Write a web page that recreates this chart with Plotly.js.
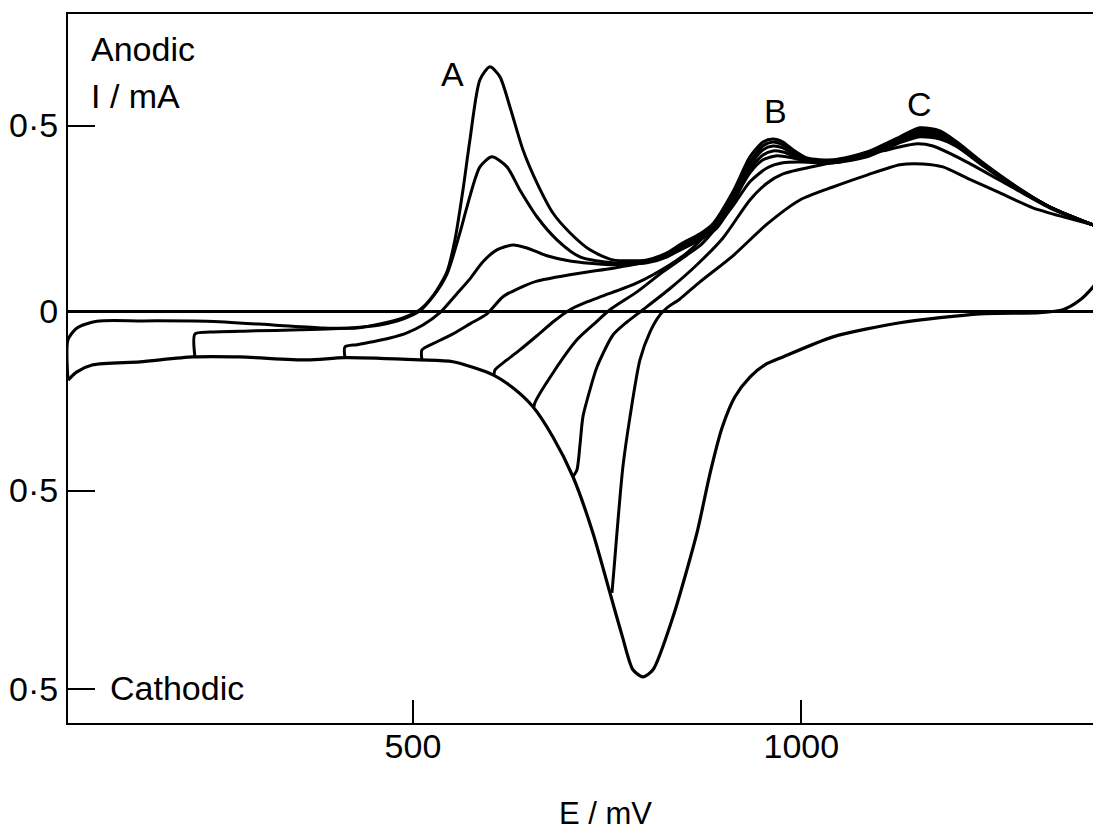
<!DOCTYPE html>
<html>
<head>
<meta charset="utf-8">
<script src="https://cdn.plot.ly/plotly-3.0.1.min.js"></script>
<style>html,body{margin:0;padding:0;background:#fff;}#chart{width:1093px;height:834px;}</style>
</head>
<body>
<div id="chart"></div>
<script>
// Potential E in mV, current I in mA (anodic positive)
// Cathodic sweep from the upper limit down to the lower limit
const cathE = [1384.4,1375.4,1358.6,1336.7,1307.1,1229.9,1126.9,1040.7,976.3,953.1,933.8,914.5,897.8,882.3,865.6,834.7,809.0,796.1,783.2,769.0,753.6,731.7,706.0,680.2,654.5,628.7,603.0,551.5,509.0,412.5,363.5,277.3,216.8,148.6,88.0,67.5,56.0];
const cathI = [0.091,0.066,0.031,0.005,-0.003,-0.006,-0.030,-0.068,-0.122,-0.143,-0.176,-0.229,-0.313,-0.436,-0.595,-0.821,-0.963,-0.982,-0.963,-0.869,-0.756,-0.595,-0.444,-0.337,-0.256,-0.205,-0.170,-0.135,-0.130,-0.124,-0.130,-0.122,-0.122,-0.135,-0.143,-0.162,-0.184];

// Anodic sweeps, each starting at a different reversal potential
const scan56E = [56.0,56.0,67.5,93.2,148.6,234.8,319.8,384.1,427.9,457.5,487.1,509.0,525.7,543.8,554.1,564.4,573.4,586.2,599.1,612.0,624.9,641.6,659.6,680.2,702.1,727.9,757.5,801.2,827.0,847.6,869.5,886.2,911.9,933.8,950.6,963.4,976.3,989.2,1007.2,1040.7,1084.4,1126.9,1152.7,1178.4,1200.3,1233.8,1277.6,1320.0,1375.4,1384.4];
const scan56I = [-0.184,-0.076,-0.044,-0.026,-0.025,-0.026,-0.036,-0.044,-0.044,-0.033,-0.017,0.005,0.042,0.107,0.193,0.327,0.462,0.623,0.658,0.631,0.550,0.435,0.346,0.265,0.212,0.166,0.139,0.139,0.158,0.185,0.209,0.236,0.322,0.416,0.456,0.464,0.456,0.435,0.413,0.408,0.429,0.470,0.494,0.486,0.456,0.400,0.335,0.281,0.233,0.228];

const scan219E = [219.4,219.4,238.7,290.2,354.5,418.9,457.5,487.1,509.0,525.7,543.8,560.5,569.5,586.2,601.7,621.0,637.7,659.6,685.4,715.0,757.5,801.2,827.0,847.6,869.5,886.2,911.9,933.8,950.6,963.4,976.3,989.2,1007.2,1040.7,1084.4,1126.9,1152.7,1178.4,1200.3,1233.8,1277.6,1320.0,1375.4,1384.4];
const scan219I = [-0.122,-0.060,-0.055,-0.052,-0.049,-0.044,-0.036,-0.020,0.002,0.040,0.101,0.212,0.281,0.389,0.416,0.389,0.327,0.255,0.193,0.147,0.131,0.134,0.153,0.179,0.204,0.230,0.314,0.402,0.446,0.456,0.448,0.429,0.410,0.405,0.427,0.467,0.491,0.483,0.454,0.397,0.333,0.281,0.233,0.228];

const scan412E = [412.5,412.5,427.9,448.5,470.4,492.3,512.9,534.8,556.6,573.4,590.1,608.1,628.7,646.8,672.5,702.1,753.6,801.2,827.0,847.6,869.5,886.2,911.9,933.8,950.6,963.4,976.3,989.2,1007.2,1040.7,1084.4,1126.9,1152.7,1178.4,1200.3,1233.8,1277.6,1320.0,1375.4,1384.4];
const scan412I = [-0.124,-0.095,-0.089,-0.081,-0.071,-0.057,-0.036,-0.003,0.048,0.088,0.134,0.166,0.179,0.171,0.150,0.136,0.126,0.131,0.147,0.174,0.198,0.225,0.302,0.392,0.435,0.445,0.440,0.424,0.408,0.405,0.424,0.464,0.486,0.480,0.451,0.397,0.333,0.281,0.233,0.228];

const scan512E = [511.6,511.6,530.9,551.5,573.4,595.3,615.9,637.7,659.6,702.1,766.5,821.8,847.6,869.5,891.3,911.9,933.8,950.6,963.4,976.3,989.2,1007.2,1040.7,1084.4,1126.9,1152.7,1178.4,1200.3,1233.8,1277.6,1320.0,1375.4,1384.4];
const scan512I = [-0.130,-0.103,-0.081,-0.060,-0.033,-0.006,0.040,0.064,0.082,0.099,0.120,0.144,0.169,0.193,0.225,0.292,0.381,0.421,0.432,0.429,0.419,0.405,0.402,0.421,0.462,0.480,0.475,0.448,0.395,0.333,0.281,0.233,0.228];

const scan604E = [604.3,605.6,621.0,637.7,659.6,680.2,702.1,724.0,744.6,788.4,830.9,852.7,873.3,891.3,911.9,933.8,950.6,968.6,989.2,1007.2,1040.7,1084.4,1126.9,1152.7,1178.4,1200.3,1233.8,1277.6,1320.0,1375.4,1384.4];
const scan604I = [-0.170,-0.157,-0.130,-0.103,-0.065,-0.028,0.005,0.026,0.042,0.077,0.126,0.158,0.198,0.241,0.297,0.373,0.408,0.419,0.413,0.405,0.400,0.419,0.459,0.475,0.469,0.445,0.395,0.330,0.281,0.233,0.228];

const scan656E = [655.8,657.0,680.2,711.1,731.7,753.6,788.4,821.8,852.7,872.0,891.3,911.9,933.8,955.7,976.3,998.2,1040.7,1084.4,1126.9,1152.7,1178.4,1200.3,1233.8,1277.6,1320.0,1375.4,1384.4];
const scan656I = [-0.256,-0.245,-0.165,-0.076,-0.036,0.005,0.053,0.107,0.152,0.182,0.228,0.284,0.349,0.386,0.400,0.402,0.400,0.416,0.454,0.470,0.464,0.443,0.392,0.330,0.279,0.233,0.228];

const scan706E = [706.0,711.1,715.0,718.8,727.9,736.9,757.5,775.5,796.1,830.9,865.6,899.1,933.8,955.7,976.3,1020.1,1062.5,1105.0,1148.8,1169.4,1213.2,1277.6,1320.0,1375.4,1384.4];
const scan706I = [-0.444,-0.426,-0.359,-0.283,-0.210,-0.149,-0.063,-0.028,0.005,0.062,0.126,0.198,0.300,0.345,0.370,0.392,0.410,0.432,0.451,0.445,0.402,0.327,0.279,0.233,0.228];

const scan756E = [756.2,759.5,762.6,770.3,779.4,792.2,805.1,818.0,827.0,843.7,869.5,911.9,955.7,998.2,1040.7,1084.4,1126.9,1156.5,1182.2,1213.2,1255.7,1298.1,1341.9,1375.4,1384.4];
const scan756I = [-0.756,-0.675,-0.595,-0.417,-0.283,-0.130,-0.055,-0.009,0.010,0.034,0.080,0.150,0.235,0.300,0.335,0.367,0.395,0.397,0.389,0.359,0.319,0.279,0.252,0.233,0.228];

// Axis ticks
const yTickVals = [0.5, 0, -0.481, -1.015];
const yTickText = ['0·5', '0', '0·5', '0·5'];
const xTickVals = [500, 1000];
const xTickText = ['500', '1000'];

const FONT = 'Liberation Sans, Arial, sans-serif';
const series = [
  [cathE, cathI], [scan56E, scan56I], [scan219E, scan219I], [scan412E, scan412I],
  [scan512E, scan512I], [scan604E, scan604I], [scan656E, scan656I],
  [scan706E, scan706I], [scan756E, scan756I]
];
const traces = series.map(([x, y], i) => ({
  x: x, y: y, type: 'scatter', mode: 'lines',
  line: {color: '#000', width: i === 0 ? 3.2 : 3.0, shape: 'spline', smoothing: 0.7},
  hoverinfo: 'skip', showlegend: false
}));

const textFont = {family: FONT, size: 34, color: '#000'};
const layout = {
  width: 1093, height: 834,
  margin: {l: 68, r: 0, t: 14, b: 111},
  paper_bgcolor: '#fff', plot_bgcolor: '#fff',
  showlegend: false,
  xaxis: {
    range: [56, 1375.4], showgrid: false, zeroline: false,
    showline: true, linecolor: '#000', linewidth: 2, mirror: true,
    ticks: 'inside', ticklen: 23, tickwidth: 2, tickcolor: '#000',
    tickmode: 'array', tickvals: xTickVals, ticktext: xTickText,
    tickfont: textFont, ticklabelstandoff: -8
  },
  yaxis: {
    range: [-1.106, 0.800], showgrid: false,
    zeroline: true, zerolinecolor: '#000', zerolinewidth: 3,
    showline: true, linecolor: '#000', linewidth: 2, mirror: false,
    ticks: 'inside', ticklen: 27, tickwidth: 2, tickcolor: '#000',
    tickmode: 'array', tickvals: yTickVals, ticktext: yTickText,
    tickfont: textFont, ticklabelstandoff: 1
  },
  annotations: [
    {text: 'Anodic', x: 83, y: 0.706, xref: 'x', yref: 'y', xanchor: 'left', yanchor: 'middle', showarrow: false, font: textFont},
    {text: 'I / mA', x: 83, y: 0.580, xref: 'x', yref: 'y', xanchor: 'left', yanchor: 'middle', showarrow: false, font: textFont},
    {text: 'Cathodic', x: 108, y: -1.012, xref: 'x', yref: 'y', xanchor: 'left', yanchor: 'middle', showarrow: false, font: textFont},
    {text: 'A', x: 551.5, y: 0.640, xref: 'x', yref: 'y', showarrow: false, font: textFont},
    {text: 'B', x: 967.3, y: 0.540, xref: 'x', yref: 'y', showarrow: false, font: textFont},
    {text: 'C', x: 1152.7, y: 0.558, xref: 'x', yref: 'y', showarrow: false, font: textFont},
    {text: 'E / mV', x: 0.524, y: -0.127, xref: 'paper', yref: 'paper', yanchor: 'middle', showarrow: false, font: {family: FONT, size: 31, color: '#000'}}
  ]
};
Plotly.newPlot('chart', traces, layout, {staticPlot: true, displayModeBar: false});
</script>
</body>
</html>
